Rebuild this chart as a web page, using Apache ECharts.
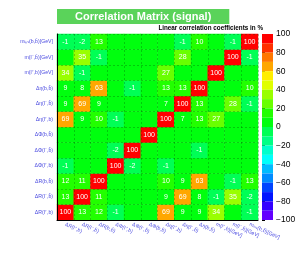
<!DOCTYPE html>
<html>
<head>
<meta charset="utf-8">
<script src="https://cdn.jsdelivr.net/npm/echarts@6/dist/echarts.min.js"></script>
<style>html,body{margin:0;padding:0;background:#fff;}#c{width:299px;height:262px;}</style>
</head>
<body>
<div id="c"></div>
<script>
// variables (x: left->right, y: bottom->top)
const variables = ['\u0394R(l\u207A,b)', '\u0394R(l\u207B,b\u0304)', '\u0394R(b,b\u0304)',
  '\u0394\u03A6(l\u207A,b)', '\u0394\u03A6(l\u207B,b\u0304)', '\u0394\u03A6(b,b\u0304)',
  '\u0394\u03B7(l\u207A,b)', '\u0394\u03B7(l\u207B,b\u0304)', '\u0394\u03B7(b,b\u0304)',
  'm(l\u207A,b)[GeV]', 'm(l\u207B,b\u0304)[GeV]', 'm\u1D62\u2099\u1D65(b,b\u0304)[GeV]'];

// correlation rows (row i = variable i, columns = variables), in %
const row0  = [100, 13, 12, -1, 0, 0, 69, 9, 9, 34, 0, -1];
const row1  = [13, 100, 11, 0, 0, 0, 9, 69, 8, -1, 35, -2];
const row2  = [12, 11, 100, 0, 0, 0, 10, 9, 63, 0, -1, 13];
const row3  = [-1, 0, 0, 100, -2, 0, -1, 0, 0, 0, 0, 0];
const row4  = [0, 0, 0, -2, 100, 0, 0, 0, -1, 0, 0, 0];
const row5  = [0, 0, 0, 0, 0, 100, 0, 0, 0, 0, 0, 0];
const row6  = [69, 9, 10, -1, 0, 0, 100, 7, 13, 27, 0, 0];
const row7  = [9, 69, 9, 0, 0, 0, 7, 100, 13, 0, 28, -1];
const row8  = [9, 8, 63, 0, -1, 0, 13, 13, 100, 0, 0, 10];
const row9  = [34, -1, 0, 0, 0, 0, 27, 0, 0, 100, 0, 0];
const row10 = [0, 35, -1, 0, 0, 0, 0, 28, 0, 0, 100, -1];
const row11 = [-1, -2, 13, 0, 0, 0, 0, -1, 10, 0, -1, 100];
const rows = [row0, row1, row2, row3, row4, row5, row6, row7, row8, row9, row10, row11];

const colorbarTicks = [-100, -80, -60, -40, -20, 0, 20, 40, 60, 80, 100];

// ROOT "pretty" palette, 20 contour bands
function hslHex(h) {
  const s = 1, l = 0.5;
  const k = n => (n + h / 30) % 12;
  const a = s * Math.min(l, 1 - l);
  const f = n => l - a * Math.max(-1, Math.min(k(n) - 3, Math.min(9 - k(n), 1)));
  const to = x => Math.round(x * 255).toString(16).padStart(2, '0');
  return '#' + to(f(0)) + to(f(8)) + to(f(4));
}
const pieces = [];
for (let c = 0; c < 20; c++) {
  const idx = Math.floor((c + 0.99) * 50 / 20);
  const hue = idx >= 49 ? 0 : 280 - (idx + 1) * 5.6;
  const lo = -100 + c * 10, hi = lo + 10;
  const p = { gte: lo, color: hslHex(hue) };
  if (c === 19) p.lte = hi; else p.lt = hi;
  pieces.push(p);
}

const data = [];
for (let y = 0; y < rows.length; y++)
  for (let x = 0; x < rows[y].length; x++)
    data.push([x, y, rows[y][x]]);

const chart = echarts.init(document.getElementById('c'), null, { renderer: 'canvas' });
const labelColor = '#4a4ae0';
chart.setOption({
  animation: false,
  title: [{
    text: 'Correlation Matrix (signal)',
    left: 57, top: 9,
    backgroundColor: '#5ad35a',
    padding: [2, 18, 1, 18],
    textStyle: { color: '#fff', fontSize: 11, fontWeight: 'bold', fontFamily: 'Liberation Sans', lineHeight: 12 }
  }, {
    text: 'Linear correlation coefficients in %',
    right: 36, top: 25, padding: 0,
    textStyle: { color: '#000', fontSize: 6.3, fontWeight: 'bold', fontFamily: 'Liberation Sans' }
  }],
  grid: [
    { left: 57, right: 41, top: 34, bottom: 42 },
    { left: 262, width: 11, top: 34, bottom: 42 }
  ],
  xAxis: [{
    type: 'category', data: variables, gridIndex: 0, z: 10,
    axisLine: { show: true, lineStyle: { color: '#000', width: 1 } },
    axisTick: { show: false },
    splitLine: { show: true, lineStyle: { color: 'rgba(0,60,0,0.45)', width: 0.6, type: [2, 2] } },
    axisLabel: { rotate: -25, fontSize: 5.2, color: labelColor, margin: 4, fontFamily: 'Liberation Sans', interval: 0 }
  }, {
    type: 'value', gridIndex: 1, show: false, min: 0, max: 1
  }],
  yAxis: [{
    type: 'category', data: variables, gridIndex: 0, z: 10,
    axisLine: { show: true, lineStyle: { color: '#000', width: 1 } },
    axisTick: { show: false },
    splitLine: { show: true, lineStyle: { color: 'rgba(0,60,0,0.45)', width: 0.6, type: [2, 2] } },
    axisLabel: { fontSize: 5.2, color: labelColor, margin: 4, fontFamily: 'Liberation Sans', interval: 0 }
  }, {
    type: 'value', gridIndex: 1, position: 'right', min: colorbarTicks[0], max: colorbarTicks[colorbarTicks.length - 1], interval: 20,
    axisLine: { show: false },
    axisTick: { show: true, length: 3, inside: false, lineStyle: { color: '#000', width: 1 } },
    splitLine: { show: false },
    axisLabel: { fontSize: 8.5, color: '#000', margin: 3, fontFamily: 'Liberation Sans', formatter: v => String(v).replace('-', '\u2212') }
  }],
  visualMap: [{
    type: 'piecewise', seriesIndex: 0, pieces: pieces, orient: 'vertical',
    left: 262, top: 34, itemWidth: 11, itemHeight: 9.3, itemGap: 0, padding: 0,
    showLabel: false, itemSymbol: 'rect', selectedMode: false, hoverLink: false, textGap: 0
  }],
  series: [{
    type: 'heatmap', xAxisIndex: 0, yAxisIndex: 0, data: data,
    label: {
      show: true, color: '#fff', fontSize: 7, fontFamily: 'Liberation Sans',
      formatter: p => (p.value[2] === 0 ? '' : String(p.value[2]))
    },
    itemStyle: { borderWidth: 0 },
    emphasis: { disabled: true }
  }]
});
</script>
</body>
</html>
